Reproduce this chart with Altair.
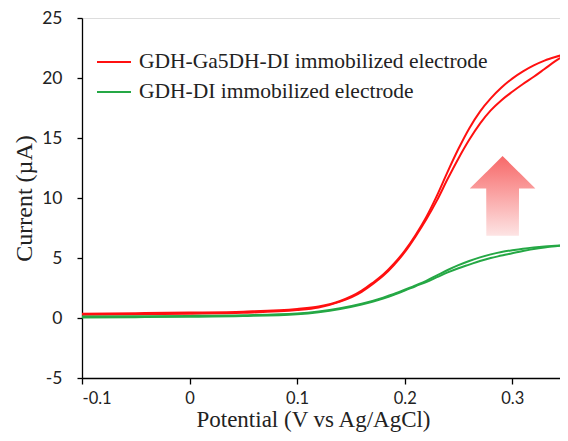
import altair as alt
import pandas as pd

# ---- data ----
potential = [-0.1, -0.05, 0.0, 0.05, 0.1, 0.12, 0.14, 0.16, 0.17, 0.18, 0.19, 0.2,
             0.21, 0.22, 0.23, 0.24, 0.25, 0.26, 0.27, 0.28, 0.29, 0.3, 0.31, 0.32,
             0.33, 0.34, 0.35]

red_upper = [0.36, 0.40, 0.45, 0.53, 0.75, 0.96, 1.42, 2.28, 2.92, 3.62, 4.52, 5.60,
             6.90, 8.40, 10.2, 12.2, 14.1, 15.8, 17.2, 18.3, 19.2, 19.95, 20.55, 21.05,
             21.45, 21.75, 22.0]
red_lower = [0.28, 0.31, 0.36, 0.44, 0.66, 0.88, 1.36, 2.18, 2.82, 3.52, 4.42, 5.48,
             6.78, 8.20, 9.80, 11.6, 13.3, 14.85, 16.2, 17.3, 18.15, 18.85, 19.5, 20.1,
             20.75, 21.4, 21.95]
green_upper = [0.12, 0.14, 0.17, 0.23, 0.38, 0.55, 0.82, 1.20, 1.43, 1.70, 2.00, 2.35,
               2.72, 3.10, 3.55, 4.00, 4.40, 4.75, 5.05, 5.30, 5.50, 5.65, 5.78, 5.88,
               5.96, 6.02, 6.08]
green_lower = [0.05, 0.07, 0.10, 0.16, 0.31, 0.48, 0.75, 1.13, 1.36, 1.63, 1.93, 2.28,
               2.65, 3.00, 3.40, 3.80, 4.15, 4.45, 4.75, 5.00, 5.20, 5.40, 5.58, 5.75,
               5.88, 5.98, 6.06]

series_names = ["GDH-Ga5DH-DI immobilized electrode", "GDH-DI immobilized electrode"]
series_colors = ["#ff1010", "#25a845"]

x_ticks = [-0.1, 0.0, 0.1, 0.2, 0.3]
y_ticks = [-5, 0, 5, 10, 15, 20, 25]

# arrow annotation (data coordinates)
arrow_x = [0.2605, 0.2758, 0.2759, 0.291, 0.3062, 0.3063, 0.3215]
arrow_top = [10.8, 12.15, 12.15, 13.5, 12.15, 12.15, 10.8]
arrow_bottom = [10.8, 10.8, 6.85, 6.85, 6.85, 10.8, 10.8]

# ---- build tables ----
rows = []
for name, sweeps in [(series_names[0], {"fwd": red_lower, "rev": red_upper}),
                     (series_names[1], {"fwd": green_lower, "rev": green_upper})]:
    for sweep, vals in sweeps.items():
        for xv, yv in zip(potential, vals):
            rows.append({"series": name, "sweep": sweep, "E": xv, "I": yv})
df = pd.DataFrame(rows)
arrow_df = pd.DataFrame({"E": arrow_x, "top": arrow_top, "bottom": arrow_bottom})

# the reference is cropped at its right edge, a little before 0.35 V
xscale = alt.Scale(domain=[-0.1, 0.3444], nice=False, zero=False)
yscale = alt.Scale(domain=[-5, 25], nice=False, zero=False)

x_axis = alt.Axis(
    title="Potential (V vs Ag/AgCl)", values=x_ticks,
    labelExpr="datum.value == 0 ? '0' : replace(format(datum.value, '.1f'), '\u2212', '-')",
    grid=False, domainColor="#000", domainWidth=1.3, tickColor="#000", tickWidth=1.3,
    tickSize=6, labelPadding=6, labelFont="Lato", labelFontSize=16.5, labelColor="#222",
    titleFont="Liberation Serif", titleFontSize=23, titleFontWeight="normal",
    titleColor="#222", titlePadding=2, titleX=231,
)
y_axis = alt.Axis(
    title="Current (\u00b5A)", values=y_ticks,
    labelExpr="replace(format(datum.value, 'd'), '\u2212', '-')",
    grid=False, domainColor="#000", domainWidth=1.3, tickColor="#000", tickWidth=1.3,
    tickSize=5, labelPadding=15, labelFont="Lato", labelFontSize=17.5, labelColor="#222",
    titleFont="Liberation Serif", titleFontSize=24, titleFontWeight="normal",
    titleColor="#222", titlePadding=5,
)

arrow = alt.Chart(arrow_df).mark_area(
    line=False,
    color=alt.LinearGradient(
        gradient="linear",
        stops=[alt.GradientStop(color="#f76868", offset=0),
               alt.GradientStop(color="#fde4e4", offset=1)],
        x1=0, x2=0, y1=0, y2=1,
    ),
).encode(
    x=alt.X("E:Q", scale=xscale, axis=x_axis),
    y=alt.Y("top:Q", scale=yscale, axis=y_axis),
    y2="bottom:Q",
)

lines = alt.Chart(df).mark_line(strokeWidth=2, interpolate="monotone", clip=True).encode(
    x=alt.X("E:Q", scale=xscale, axis=x_axis),
    y=alt.Y("I:Q", scale=yscale, axis=y_axis),
    color=alt.Color(
        "series:N",
        scale=alt.Scale(domain=series_names, range=series_colors),
        legend=alt.Legend(
            title=None, orient="none", legendX=14, legendY=26,
            symbolType="stroke", symbolSize=1156, symbolStrokeWidth=2,
            labelFont="Liberation Serif", labelFontSize=21.5, labelColor="#222",
            labelOffset=7, rowPadding=1, padding=0, labelLimit=0,
        ),
    ),
    detail="sweep:N",
)

chart = alt.layer(arrow, lines).properties(
    width=478, height=360,
    autosize=alt.AutoSizeParams(type="none"),
    padding={"left": 74, "top": 10, "right": 0, "bottom": 55},
).configure_view(stroke=None).configure(background="white")

chart.save("out.html", embed_options={"renderer": "svg", "actions": False})
